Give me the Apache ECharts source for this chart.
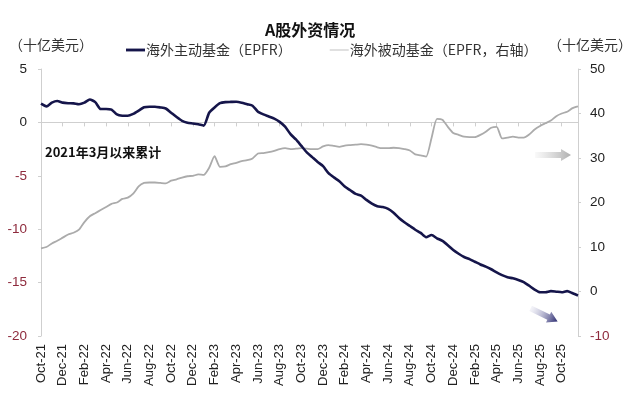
<!DOCTYPE html>
<html>
<head>
<meta charset="utf-8">
<script src="https://cdn.jsdelivr.net/npm/echarts@6/dist/echarts.min.js"></script>
<style>
html,body{margin:0;padding:0;background:#fff;}
#chart{width:640px;height:394px;}
</style>
</head>
<body>
<div id="chart"></div>
<script>
// Tick labels on the x axis (one every two months, half-month data points)
const tickLabels = ['Oct-21','Dec-21','Feb-22','Apr-22','Jun-22','Aug-22','Oct-22','Dec-22',
  'Feb-23','Apr-23','Jun-23','Aug-23','Oct-23','Dec-23','Feb-24','Apr-24','Jun-24','Aug-24',
  'Oct-24','Dec-24','Feb-25','Apr-25','Jun-25','Aug-25','Oct-25'];
const monthNames = ['Jan','Feb','Mar','Apr','May','Jun','Jul','Aug','Sep','Oct','Nov','Dec'];

// 海外主动基金（EPFR）, left axis, bn USD, half-monthly
const activeFunds = [
  1.75,1.5,1.85,2.0,1.85,1.8,1.78,1.7,1.85,2.15,
  1.9,1.25,1.25,1.2,0.75,0.63,0.62,0.8,1.1,1.42,
  1.47,1.47,1.4,1.3,0.9,0.5,0.15,-0.03,-0.1,-0.18,
  -0.3,0.9,1.4,1.8,1.9,1.92,1.94,1.85,1.7,1.56,
  1.0,0.75,0.55,0.35,0.05,-0.4,-1.1,-1.6,-2.2,-2.8,
  -3.25,-3.7,-4.1,-4.75,-5.15,-5.5,-6.0,-6.35,-6.7,-6.85,
  -7.25,-7.6,-7.85,-7.93,-8.1,-8.45,-8.95,-9.35,-9.7,-10.05,
  -10.35,-10.75,-10.55,-10.85,-11.1,-11.5,-11.95,-12.3,-12.6,-12.8,
  -13.05,-13.3,-13.5,-13.75,-14.05,-14.3,-14.5,-14.6,-14.75,-14.95,
  -15.3,-15.65,-15.9,-15.9,-15.8,-15.85,-15.9,-15.8,-16.0,-16.2
];
// 海外被动基金（EPFR，右轴）, right axis, bn USD, half-monthly
const passiveFunds = [
  9.7,10.0,10.8,11.4,12.1,12.8,13.2,13.9,15.6,16.9,
  17.6,18.3,19.0,19.7,20.0,20.8,21.1,22.0,23.6,24.4,
  24.5,24.5,24.4,24.3,24.9,25.2,25.6,25.9,26.0,26.3,
  26.2,27.8,30.4,28.0,28.1,28.6,28.9,29.3,29.5,29.9,
  31.0,31.1,31.3,31.6,32.0,32.2,32.0,32.1,32.2,32.1,
  32.0,32.0,32.6,32.9,32.7,32.5,32.8,32.9,33.0,33.1,
  33.0,32.8,32.4,32.2,32.2,32.3,32.2,32.0,31.7,30.8,
  30.6,30.3,34.5,38.8,38.6,37.0,35.6,35.2,34.8,34.7,
  34.7,35.2,35.9,36.8,37.0,34.4,34.6,34.8,34.6,34.6,
  35.3,36.4,37.2,37.8,38.4,39.4,40.0,40.4,41.2,41.6
];

const categories = activeFunds.map((_, i) => {
  const m = 9 + Math.floor(i / 2);
  const yy = 21 + Math.floor(m / 12);
  return monthNames[m % 12] + '-' + yy + (i % 2 ? ' H2' : '');
});

const FONT = '"Liberation Sans", Arial, "Noto Sans CJK SC", sans-serif';
const CJK = '"Noto Sans CJK SC", "Liberation Sans", sans-serif';
const navy = '#15154a';
const grayLine = '#ababab';
const neg = '#8e2a3c';

function yLabel(v) {
  return v < 0 ? '{n|' + v + '}' : '{p|' + v + '}';
}
const yRich = {
  p: { color: '#222', fontSize: 13.5, fontFamily: FONT },
  n: { color: neg, fontSize: 13.5, fontFamily: FONT }
};

const chart = echarts.init(document.getElementById('chart'), null, { renderer: 'canvas' });
chart.setOption({
  animation: false,
  backgroundColor: '#fff',
  title: {
    text: 'A股外资情况',
    left: 260,
    top: 17,
    textStyle: { fontFamily: CJK, fontSize: 16, fontWeight: 'bold', color: '#111' }
  },
  legend: {
    top: 38,
    left: 121,
    itemGap: 38,
    itemWidth: 19,
    itemHeight: 10,
    textStyle: { fontFamily: CJK, fontSize: 14, color: '#333', padding: [0, 0, 0, -4] },
    data: [
      { name: '海外主动基金（EPFR）', icon: 'path://M0,4 L20,4 L20,7 L0,7 Z', itemStyle: { color: navy } },
      { name: '海外被动基金（EPFR，右轴）', icon: 'path://M0,5 L20,5 L20,6 L0,6 Z', itemStyle: { color: '#bdbdbd' } }
    ]
  },
  grid: { left: 41, right: 62, top: 69, bottom: 58 },
  xAxis: [
    {
      type: 'category',
      data: categories,
      boundaryGap: false,
      position: 'bottom',
      axisLine: { show: false, onZero: false },
      axisTick: { show: false },
      axisLabel: {
        interval: 3,
        rotate: 90,
        margin: 8,
        fontFamily: FONT,
        fontSize: 13,
        color: '#222',
        formatter: (v, i) => tickLabels[i / 4] || ''
      },
      splitLine: { show: false }
    },
    {
      type: 'category',
      data: categories,
      boundaryGap: false,
      position: 'bottom',
      axisLine: { show: true, onZero: true, onZeroAxisIndex: 0, lineStyle: { color: '#cfcfcf', width: 1 } },
      axisTick: { show: true, interval: 3, length: 4, lineStyle: { color: '#cfcfcf' } },
      axisLabel: { show: false },
      splitLine: { show: false }
    }
  ],
  yAxis: [
    {
      type: 'value',
      min: -20, max: 5, interval: 5,
      position: 'left',
      axisLine: { show: true, lineStyle: { color: '#cfcfcf' } },
      axisTick: { show: true, length: 3, lineStyle: { color: '#cfcfcf' } },
      axisLabel: { margin: 14, formatter: yLabel, rich: yRich },
      splitLine: { show: false }
    },
    {
      type: 'value',
      min: -10, max: 50, interval: 10,
      position: 'right',
      axisLine: { show: true, lineStyle: { color: '#cfcfcf' } },
      axisTick: { show: true, length: 3, lineStyle: { color: '#cfcfcf' } },
      axisLabel: { margin: 12, formatter: yLabel, rich: yRich },
      splitLine: { show: false }
    }
  ],
  series: [
    {
      name: '海外被动基金（EPFR，右轴）',
      type: 'line',
      xAxisIndex: 0,
      yAxisIndex: 1,
      data: passiveFunds,
      showSymbol: false,
      smooth: 0.2,
      lineStyle: { color: grayLine, width: 1.8 },
      itemStyle: { color: grayLine },
      z: 2
    },
    {
      name: '海外主动基金（EPFR）',
      type: 'line',
      xAxisIndex: 0,
      yAxisIndex: 0,
      data: activeFunds,
      showSymbol: false,
      smooth: 0.2,
      lineStyle: { color: navy, width: 2.6 },
      itemStyle: { color: navy },
      z: 3
    }
  ],
  graphic: [
    { type: 'text', left: 9, top: 38, style: { text: '（十亿美元）', font: '14px ' + CJK, fill: '#333' } },
    { type: 'text', right: 8, top: 38, style: { text: '（十亿美元）', font: '14px ' + CJK, fill: '#333' } },
    { type: 'text', left: 45, top: 146, style: { text: '2021年3月以来累计', font: 'bold 13px ' + CJK, fill: '#111' } },
    {
      type: 'polygon', left: 535, top: 149,
      shape: { points: [[0, 3], [26, 3], [26, 0], [36, 6], [26, 12], [26, 9], [0, 9]] },
      style: { fill: new echarts.graphic.LinearGradient(0, 0, 1, 0, [
        { offset: 0, color: 'rgba(200,200,200,0.1)' }, { offset: 1, color: 'rgba(175,175,175,1)' }]) }
    },
    {
      type: 'group', left: 528, top: 303,
      children: [{
        type: 'polygon',
        rotation: -0.45,
        originX: 0, originY: 0,
        x: 0, y: 0,
        shape: { points: [[0, 3], [20, 3], [20, 0], [30, 6], [20, 12], [20, 9], [0, 9]] },
        style: { fill: new echarts.graphic.LinearGradient(0, 0, 1, 0, [
          { offset: 0, color: 'rgba(200,200,225,0.2)' }, { offset: 1, color: 'rgba(40,40,110,1)' }]) }
      }]
    }
  ]
});
</script>
</body>
</html>
